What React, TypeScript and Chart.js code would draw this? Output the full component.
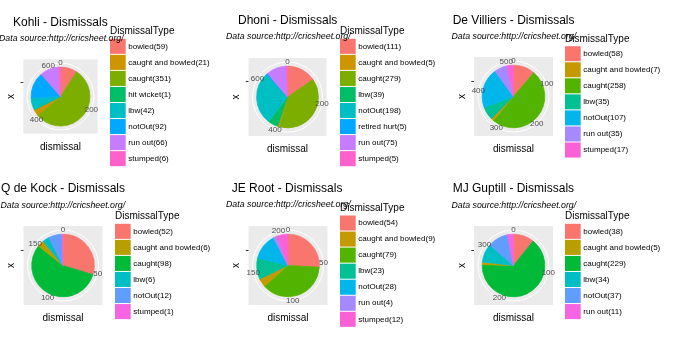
import React, { useEffect, useRef } from 'react';
import { Chart, registerables } from 'chart.js';

Chart.register(...registerables);

// ---------------- data ----------------
const kohliTypes = ['bowled', 'caught and bowled', 'caught', 'hit wicket', 'lbw', 'notOut', 'run out', 'stumped'];
const kohliCounts = [59, 21, 351, 1, 42, 92, 66, 6];
const kohliTicks = [0, 200, 400, 600];

const dhoniTypes = ['bowled', 'caught and bowled', 'caught', 'lbw', 'notOut', 'retired hurt', 'run out', 'stumped'];
const dhoniCounts = [111, 5, 279, 39, 198, 5, 75, 5];
const dhoniTicks = [0, 200, 400, 600];

const devilliersTypes = ['bowled', 'caught and bowled', 'caught', 'lbw', 'notOut', 'run out', 'stumped'];
const devilliersCounts = [58, 7, 258, 35, 107, 35, 17];
const devilliersTicks = [0, 100, 200, 300, 400, 500];

const dekockTypes = ['bowled', 'caught and bowled', 'caught', 'lbw', 'notOut', 'stumped'];
const dekockCounts = [52, 6, 98, 6, 12, 1];
const dekockTicks = [0, 50, 100, 150];

const rootTypes = ['bowled', 'caught and bowled', 'caught', 'lbw', 'notOut', 'run out', 'stumped'];
const rootCounts = [54, 9, 79, 23, 28, 4, 12];
const rootTicks = [0, 50, 100, 150, 200];

const guptillTypes = ['bowled', 'caught and bowled', 'caught', 'lbw', 'notOut', 'run out'];
const guptillCounts = [38, 5, 229, 34, 37, 11];
const guptillTicks = [0, 100, 200, 300];

const subtitleText = 'Data source:http://cricsheet.org/';
const legendTitle = 'DismissalType';
const xTitle = 'dismissal';
const yTitle = 'x';

// ggplot2 default hue palettes
const PAL6 = ['#F8766D', '#B79F00', '#00BA38', '#00BFC4', '#619CFF', '#F564E3'];
const PAL7 = ['#F8766D', '#C49A00', '#53B400', '#00C094', '#00B6EB', '#A58AFF', '#FB61D7'];
const PAL8 = ['#F8766D', '#CD9600', '#7CAE00', '#00BE67', '#00BFC4', '#00A9FF', '#C77CFF', '#FF61CC'];
const palette = (n: number) => (n <= 6 ? PAL6 : n === 7 ? PAL7 : PAL8);

const FONT = '"Liberation Sans", Arial, Helvetica, sans-serif';

type PanelDef = {
  name: string;
  types: string[];
  counts: number[];
  ticks: number[];
  box: { ox: number; oy: number; w: number; h: number };
  rect: { x: number; y: number; s: number };
  title: { x: number; y: number };
  sub: { x: number; y: number };
  legend: { x: number; titleY: number; top: number };
};

const panels: PanelDef[] = [
  {
    name: 'Kohli', types: kohliTypes, counts: kohliCounts, ticks: kohliTicks,
    box: { ox: 0, oy: 0, w: 225, h: 169 },
    rect: { x: 23.3, y: 59.3, s: 74.4 },
    title: { x: 13, y: 26 }, sub: { x: -1, y: 40.5 },
    legend: { x: 110, titleY: 34.2, top: 38.3 },
  },
  {
    name: 'Dhoni', types: dhoniTypes, counts: dhoniCounts, ticks: dhoniTicks,
    box: { ox: 225, oy: 0, w: 225, h: 169 },
    rect: { x: 23.5, y: 58, s: 78 },
    title: { x: 13, y: 24 }, sub: { x: 1, y: 39 },
    legend: { x: 115, titleY: 34.2, top: 38.3 },
  },
  {
    name: 'De Villiers', types: devilliersTypes, counts: devilliersCounts, ticks: devilliersTicks,
    box: { ox: 450, oy: 0, w: 226, h: 169 },
    rect: { x: 24, y: 57, s: 79 },
    title: { x: 2.7, y: 24 }, sub: { x: 1.5, y: 39 },
    legend: { x: 115, titleY: 42, top: 45.7 },
  },
  {
    name: 'Q de Kock', types: dekockTypes, counts: dekockCounts, ticks: dekockTicks,
    box: { ox: 0, oy: 169, w: 225, h: 169 },
    rect: { x: 23.5, y: 57, s: 79 },
    title: { x: 1, y: 23 }, sub: { x: 0.5, y: 38.5 },
    legend: { x: 115, titleY: 49.8, top: 54.3 },
  },
  {
    name: 'JE Root', types: rootTypes, counts: rootCounts, ticks: rootTicks,
    box: { ox: 225, oy: 169, w: 225, h: 169 },
    rect: { x: 23.5, y: 57, s: 79 },
    title: { x: 6.7, y: 23 }, sub: { x: 1, y: 37.5 },
    legend: { x: 115, titleY: 41.5, top: 46 },
  },
  {
    name: 'MJ Guptill', types: guptillTypes, counts: guptillCounts, ticks: guptillTicks,
    box: { ox: 450, oy: 169, w: 226, h: 169 },
    rect: { x: 24, y: 57, s: 79 },
    title: { x: 2.7, y: 23 }, sub: { x: 1.5, y: 38.5 },
    legend: { x: 115, titleY: 49.8, top: 54.3 },
  },
];

// the reference stacks "caught" ahead of "caught and bowled" (clockwise from 12 o'clock)
function sliceOrder(types: string[]): number[] {
  const idx = types.map((_, i) => i);
  const a = types.indexOf('caught and bowled');
  const b = types.indexOf('caught');
  if (a >= 0 && b >= 0) {
    idx[a] = b;
    idx[b] = a;
  }
  return idx;
}

const KEY_PITCH = 16.05;
const KEY_W = 15.7;

function PiePanel({ p }: { p: PanelDef }) {
  const ref = useRef<HTMLCanvasElement>(null);

  useEffect(() => {
    const canvas = ref.current;
    if (!canvas) return;
    const colors = palette(p.types.length);
    const order = sliceOrder(p.types);
    const labels = order.map((i) => p.types[i]);
    const values = order.map((i) => p.counts[i]);
    const fills = order.map((i) => colors[i]);
    const { w, h } = p.box;
    const { x: rx, y: ry, s } = p.rect;

    const geom = (chart: any) => {
      const a = chart.chartArea;
      const size = a.right - a.left;
      const cx = (a.left + a.right) / 2;
      const cy = (a.top + a.bottom) / 2;
      const meta = chart.getDatasetMeta(0);
      const total = meta.total || values.reduce((q, v) => q + v, 0);
      return { a, size, cx, cy, total };
    };

    const decor = {
      id: 'ggDecor',
      beforeDatasetsDraw(chart: any) {
        const ctx = chart.ctx as CanvasRenderingContext2D;
        const { a, size, cx, cy, total } = geom(chart);
        const R = 0.45 * size;
        ctx.save();
        ctx.fillStyle = '#EBEBEB';
        ctx.fillRect(a.left, a.top, size, a.bottom - a.top);
        ctx.strokeStyle = '#FFFFFF';
        // minor theta grid
        const step = p.ticks.length > 1 ? p.ticks[1] - p.ticks[0] : total;
        ctx.lineWidth = 0.5;
        p.ticks.forEach((t) => {
          const m = t + step / 2;
          if (m >= total) return;
          const ang = (m / total) * Math.PI * 2;
          ctx.beginPath();
          ctx.moveTo(cx, cy);
          ctx.lineTo(cx + R * Math.sin(ang), cy - R * Math.cos(ang));
          ctx.stroke();
        });
        // major theta grid
        ctx.lineWidth = 1;
        p.ticks.forEach((t) => {
          const ang = (t / total) * Math.PI * 2;
          ctx.beginPath();
          ctx.moveTo(cx, cy);
          ctx.lineTo(cx + R * Math.sin(ang), cy - R * Math.cos(ang));
          ctx.stroke();
        });
        // outer circle
        ctx.beginPath();
        ctx.arc(cx, cy, R, 0, Math.PI * 2);
        ctx.stroke();
        ctx.restore();
      },
      afterDraw(chart: any) {
        const ctx = chart.ctx as CanvasRenderingContext2D;
        const { a, size, cx, cy, total } = geom(chart);
        const R = 0.45 * size;
        ctx.save();

        // theta tick labels
        ctx.font = `8px ${FONT}`;
        ctx.fillStyle = '#4D4D4D';
        ctx.textAlign = 'center';
        ctx.textBaseline = 'middle';
        p.ticks.forEach((t) => {
          const ang = (t / total) * Math.PI * 2;
          ctx.fillText(String(t), cx + R * Math.sin(ang), cy - R * Math.cos(ang));
        });

        // r-axis tick mark (single discrete category)
        const ty = Math.round(a.top + 0.3 * size) + 0.5;
        ctx.strokeStyle = '#333333';
        ctx.lineWidth = 1;
        ctx.beginPath();
        ctx.moveTo(a.left - 2.7, ty);
        ctx.lineTo(a.left, ty);
        ctx.stroke();

        // axis titles
        ctx.fillStyle = '#000000';
        ctx.font = `10px ${FONT}`;
        ctx.textAlign = 'center';
        ctx.textBaseline = 'middle';
        ctx.fillText(xTitle, cx, a.bottom + 13.5);
        ctx.save();
        ctx.translate(a.left - 12, cy);
        ctx.rotate(-Math.PI / 2);
        ctx.fillText(yTitle, 0, 0);
        ctx.restore();

        // legend
        const L = p.legend;
        ctx.textAlign = 'left';
        ctx.textBaseline = 'alphabetic';
        ctx.font = `10px ${FONT}`;
        ctx.fillStyle = '#000000';
        ctx.fillText(legendTitle, L.x, L.titleY);
        p.types.forEach((t, i) => {
          const y = L.top + i * KEY_PITCH;
          ctx.fillStyle = '#FFFFFF';
          ctx.fillRect(L.x, y, KEY_W, KEY_PITCH);
          ctx.fillStyle = colors[i];
          ctx.fillRect(L.x, y + 0.5, KEY_W, KEY_PITCH - 1);
        });
        ctx.font = `8px ${FONT}`;
        ctx.fillStyle = '#000000';
        ctx.textBaseline = 'middle';
        p.types.forEach((t, i) => {
          const y = L.top + i * KEY_PITCH + KEY_PITCH / 2;
          ctx.fillText(`${t}(${p.counts[i]})`, L.x + KEY_W + 2.6, y);
        });

        // plot title and subtitle
        ctx.textBaseline = 'alphabetic';
        ctx.font = `12px ${FONT}`;
        ctx.fillText(`${p.name} - Dismissals`, p.title.x, p.title.y);
        ctx.font = `italic 8.8px ${FONT}`;
        ctx.fillText(subtitleText, p.sub.x, p.sub.y);

        ctx.restore();
      },
    };

    const chart = new Chart(canvas, {
      type: 'pie',
      data: {
        labels,
        datasets: [
          {
            data: values,
            backgroundColor: fills,
            borderColor: fills,
            borderWidth: 0.75,
            hoverBorderWidth: 0.75,
            hoverOffset: 0,
            offset: 0,
          },
        ],
      },
      options: {
        responsive: false,
        maintainAspectRatio: false,
        animation: false,
        events: [],
        radius: '80%',
        layout: { padding: { left: rx, top: ry, right: w - rx - s, bottom: h - ry - s } },
        plugins: {
          legend: { display: false },
          tooltip: { enabled: false },
          title: { display: false },
        },
      } as any,
      plugins: [decor],
    });
    return () => chart.destroy();
  }, [p]);

  return (
    <div style={{ position: 'absolute', left: p.box.ox, top: p.box.oy, width: p.box.w, height: p.box.h }}>
      <canvas ref={ref} width={p.box.w} height={p.box.h} style={{ display: 'block', width: p.box.w, height: p.box.h }} />
    </div>
  );
}

export default function App() {
  useEffect(() => {
    document.body.style.margin = '0';
    document.body.style.background = '#FFFFFF';
  }, []);
  return (
    <div style={{ position: 'absolute', left: 0, top: 0, width: 676, height: 338, overflow: 'hidden', background: '#FFFFFF' }}>
      {panels.map((p) => (
        <PiePanel key={p.name} p={p} />
      ))}
    </div>
  );
}
